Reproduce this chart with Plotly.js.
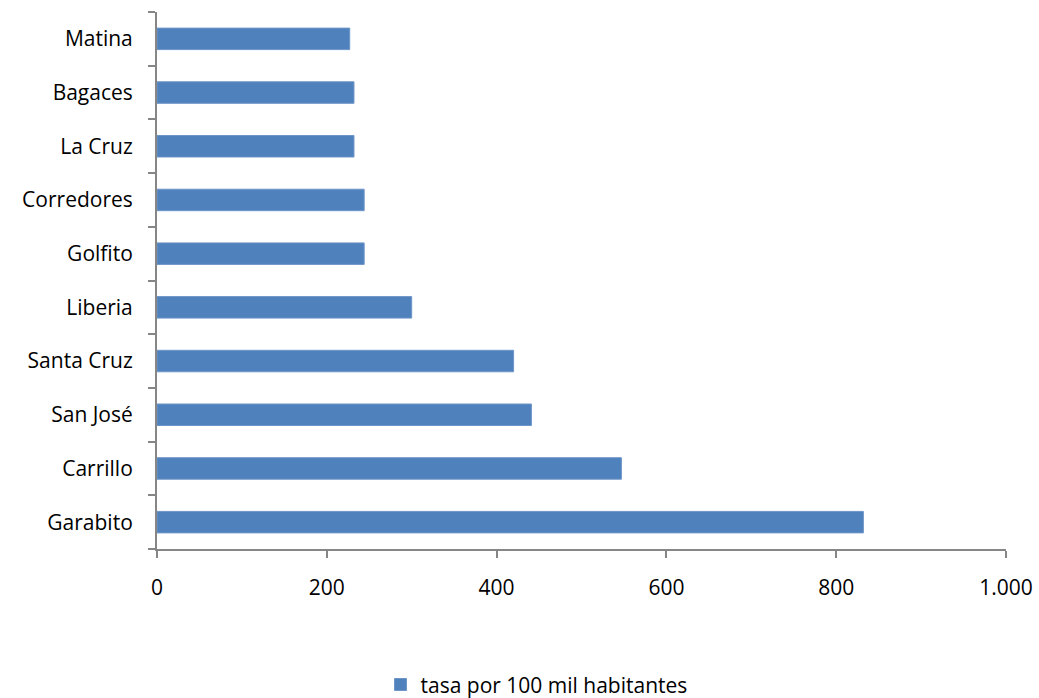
<!DOCTYPE html>
<html>
<head>
<meta charset="utf-8">
<script src="https://cdn.plot.ly/plotly-3.0.1.min.js"></script>
<style>html,body{margin:0;padding:0;background:#fff;}#chart{width:1039px;height:698px;}</style>
</head>
<body>
<div id="chart"></div>
<script>
const categories = ["Garabito","Carrillo","San José","Santa Cruz","Liberia","Golfito","Corredores","La Cruz","Bagaces","Matina"];
const values = [832, 547, 441, 420, 300, 244, 244, 232, 232, 227];
const seriesName = "tasa por 100 mil habitantes";
const xTicks = [0, 200, 400, 600, 800, 1000];

const font = {family: "'Open Sans', sans-serif", size: 21, color: "#000"};

Plotly.newPlot("chart", [{
  type: "bar",
  orientation: "h",
  y: categories,
  x: values,
  name: seriesName,
  marker: {color: "#4F81BD", line: {color: "#6D95C8", width: 1}},
  showlegend: true
}], {
  width: 1039, height: 698,
  margin: {l: 157, r: 33, t: 12, b: 149, autoexpand: false},
  paper_bgcolor: "#fff", plot_bgcolor: "#fff",
  font: font,
  separators: ",.",
  bargap: 0.6,
  xaxis: {
    range: [0, 1000],
    tickvals: xTicks,
    separatethousands: true,
    showgrid: false, zeroline: false,
    showline: true, linecolor: "#868686", linewidth: 2,
    ticks: "outside", ticklen: 7, tickcolor: "#868686", tickwidth: 2,
    ticklabelstandoff: 12,
    tickfont: font
  },
  yaxis: {
    type: "category",
    showgrid: false, zeroline: false,
    showline: true, linecolor: "#868686", linewidth: 2,
    ticks: "outside", ticklen: 7, tickcolor: "#868686", tickwidth: 2,
    tickson: "boundaries",
    ticklabelstandoff: 18,
    tickfont: font
  },
  legend: {
    orientation: "h", x: 0.447, xanchor: "center", y: -0.253, yanchor: "middle",
    font: font, itemwidth: 30
  }
}, {displayModeBar: false, staticPlot: true});
</script>
</body>
</html>
